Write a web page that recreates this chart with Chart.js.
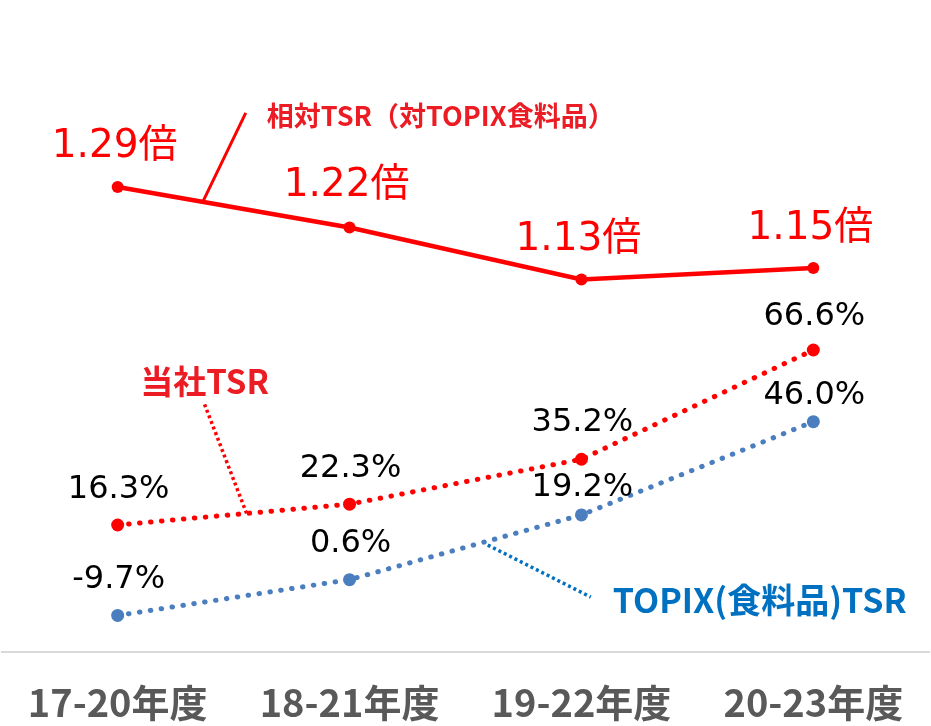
<!DOCTYPE html>
<html>
<head>
<meta charset="utf-8">
<script src="https://cdn.jsdelivr.net/npm/chart.js@4"></script>
<style>
  html, body { margin: 0; padding: 0; background: #ffffff; }
  #wrap { width: 931px; height: 726px; }
</style>
</head>
<body>
<div id="wrap"><canvas id="tsr-chart"></canvas></div>
<script>
    "use strict";

    // Data
    var periods = ["17-20年度", "18-21年度", "19-22年度", "20-23年度"];
    var relativeTsr = [1.29, 1.22, 1.13, 1.15];       // 倍
    var companyTsr = [16.3, 22.3, 35.2, 66.6];        // %
    var topixFoodTsr = [-9.7, 0.6, 19.2, 46.0];       // %

    var RED = "#ff0000";
    var LABEL_RED = "#ec1c24";
    var BLUE = "#4a7ebf";
    var LABEL_BLUE = "#0070c0";
    var JP = "'Noto Sans CJK JP', 'Noto Sans', sans-serif";
    var NUM = "'DejaVu Sans', 'Noto Sans CJK JP', sans-serif";

    // how far above each point its value label sits (per dataset)
    var labelLift = [
        [30, 31, 30, 29],
        [27, 27, 28, 25],
        [27, 28, 19, 18]
    ];

    // point on the segment between point i and i+1 of a dataset
    function along(chart, dsIndex, i, t) {
        var pts = chart.getDatasetMeta(dsIndex).data;
        return {
            x: pts[i].x + (pts[i + 1].x - pts[i].x) * t,
            y: pts[i].y + (pts[i + 1].y - pts[i].y) * t
        };
    }

    function leader(ctx, x1, y1, x2, y2, color, width, dash) {
        ctx.save();
        ctx.strokeStyle = color;
        ctx.lineWidth = width;
        ctx.setLineDash(dash);
        ctx.beginPath();
        ctx.moveTo(x1, y1);
        ctx.lineTo(x2, y2);
        ctx.stroke();
        ctx.restore();
    }

    // Value labels + series callouts
    var labelsPlugin = {
        id: "tsrLabels",
        afterDatasetsDraw: function (chart) {
            var ctx = chart.ctx;
            ctx.save();
            ctx.textAlign = "center";
            ctx.textBaseline = "alphabetic";

            // value labels
            chart.data.datasets.forEach(function (ds, di) {
                var meta = chart.getDatasetMeta(di);
                meta.data.forEach(function (pt, i) {
                    var v = ds.data[i];
                    var lift = labelLift[di][i];
                    if (di === 0) {
                        ctx.font = "39px " + NUM;
                        ctx.fillStyle = RED;
                        ctx.fillText(v.toFixed(2) + "倍", pt.x - 3, pt.y - lift);
                    } else {
                        ctx.font = "32px " + NUM;
                        ctx.fillStyle = "#000000";
                        ctx.fillText(v.toFixed(1) + "%", pt.x + 1, pt.y - lift);
                    }
                });
            });

            // 相対TSR callout
            var a = along(chart, 0, 0, 0.367);
            leader(ctx, a.x, a.y, a.x + 43, a.y - 89, RED, 3, []);
            ctx.font = "bold 27px " + JP;
            ctx.fillStyle = LABEL_RED;
            ctx.textAlign = "left";
            ctx.textBaseline = "middle";
            ctx.fillText("相対TSR（対TOPIX食料品）", a.x + 64, a.y - 86);

            // 当社TSR callout
            var b = along(chart, 1, 0, 0.556);
            leader(ctx, b.x, b.y, b.x - 42, b.y - 109, RED, 3.5, [3, 3]);
            ctx.font = "bold 33px " + JP;
            ctx.fillStyle = LABEL_RED;
            ctx.textAlign = "center";
            ctx.fillText("当社TSR", b.x - 42, b.y - 132);

            // TOPIX callout
            var c = along(chart, 2, 1, 0.596);
            leader(ctx, c.x, c.y + 4, c.x + 103, c.y + 56, LABEL_BLUE, 3.5, [3, 3]);
            ctx.font = "bold 34px " + JP;
            ctx.fillStyle = LABEL_BLUE;
            ctx.textAlign = "left";
            ctx.fillText("TOPIX(食料品)TSR", c.x + 125, c.y + 59);

            ctx.restore();
        }
    };

    var canvas = document.getElementById("tsr-chart");
    var ctx = canvas.getContext("2d");
    var tsrChart = new Chart(ctx, {
        type: "line",
        data: {
            labels: periods,
            datasets: [{
                label: "相対TSR（対TOPIX食料品）",
                data: relativeTsr,
                yAxisID: "yRel",
                borderColor: RED,
                backgroundColor: RED,
                borderWidth: 4.5,
                pointRadius: 6,
                pointBorderWidth: 0,
                clip: false
            }, {
                label: "当社TSR",
                data: companyTsr,
                yAxisID: "yPct",
                borderColor: RED,
                backgroundColor: RED,
                borderWidth: 5,
                borderDash: [0.5, 10.5],
                borderCapStyle: "round",
                pointRadius: 6.5,
                pointBorderWidth: 0,
                clip: false
            }, {
                label: "TOPIX(食料品)TSR",
                data: topixFoodTsr,
                yAxisID: "yPct",
                borderColor: BLUE,
                backgroundColor: BLUE,
                borderWidth: 5,
                borderDash: [0.5, 10.5],
                borderCapStyle: "round",
                pointRadius: 6.5,
                pointBorderWidth: 0,
                clip: false
            }]
        },
        options: {
            responsive: true,
            maintainAspectRatio: false,
            animation: false,
            layout: { padding: 0, autoPadding: false },
            plugins: {
                legend: { display: false },
                tooltip: { enabled: false }
            },
            scales: {
                x: {
                    offset: true,
                    grid: { display: false, drawTicks: false },
                    border: { display: true, color: "#d9d9d9", width: 2 },
                    ticks: {
                        padding: 28,
                        color: "#595959",
                        font: { family: JP, size: 38, weight: "bold" }
                    },
                    afterFit: function (scale) {
                        scale.height = 74;
                    }
                },
                yPct: {
                    display: false,
                    min: -20.2,
                    max: 167.2
                },
                yRel: {
                    display: false,
                    position: "right",
                    min: 0.4863,
                    max: 1.6132
                }
            }
        },
        plugins: [labelsPlugin]
    });
</script>
</body>
</html>
